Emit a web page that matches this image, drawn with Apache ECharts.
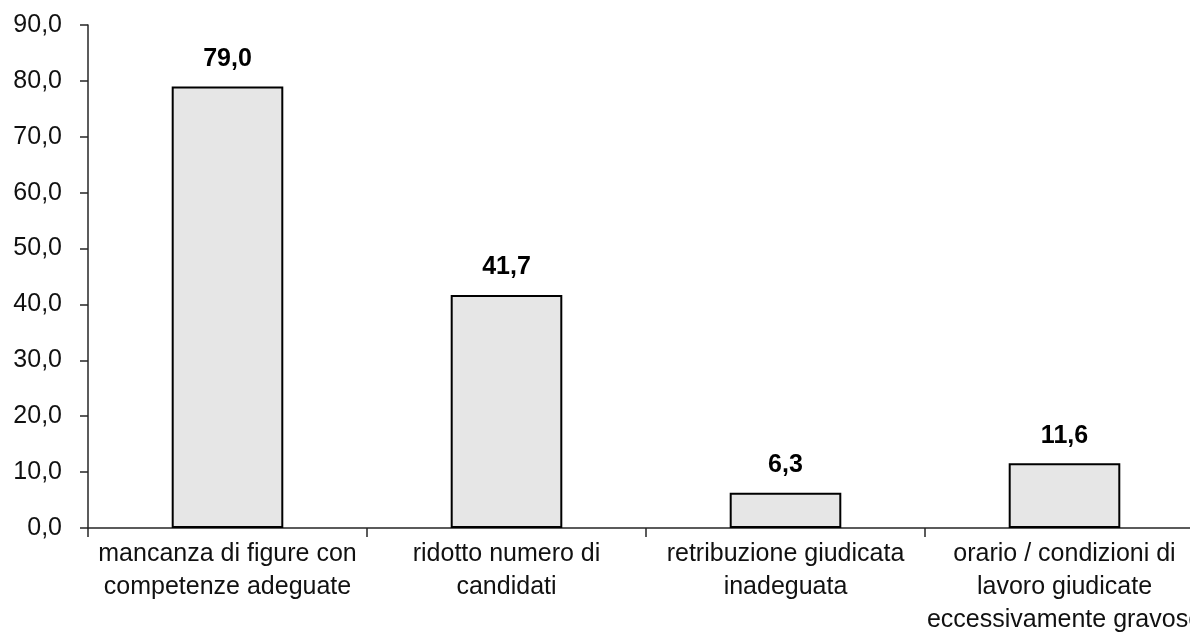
<!DOCTYPE html>
<html>
<head>
<meta charset="utf-8">
<script src="https://cdn.jsdelivr.net/npm/echarts@6/dist/echarts.min.js"></script>
<style>
html,body{margin:0;padding:0;background:#fff;}
#main{width:1190px;height:639px;}
</style>
</head>
<body>
<div id="main"></div>
<script>
const categories = [
  "mancanza di figure con\ncompetenze adeguate",
  "ridotto numero di\ncandidati",
  "retribuzione giudicata\ninadeguata",
  "orario / condizioni di\nlavoro giudicate\neccessivamente gravose"
];
const values = [79.0, 41.7, 6.3, 11.6];
const yTicks = { min: 0, max: 90, interval: 10 };

const FONT = "'Liberation Sans Narrow', 'Arial Narrow', 'Liberation Sans', Arial, sans-serif";
const fmt = v => Number(v).toFixed(1).replace('.', ',');

const chart = echarts.init(document.getElementById('main'), null, {renderer: 'canvas'});
chart.setOption({
  animation: false,
  backgroundColor: '#ffffff',
  grid: { left: 88, top: 25, bottom: 111, right: -14, containLabel: false, outerBoundsMode: 'none' },
  xAxis: {
    type: 'category',
    data: categories,
    boundaryGap: true,
    axisLine: { show: true, lineStyle: { color: '#262626', width: 1.5 } },
    axisTick: { show: true, length: 9, alignWithLabel: false, interval: 0, lineStyle: { color: '#262626', width: 1.5 } },
    axisLabel: { interval: 0, color: '#111', fontFamily: FONT, fontSize: 25, lineHeight: 33, margin: 10 },
    splitLine: { show: false }
  },
  yAxis: {
    type: 'value',
    min: yTicks.min, max: yTicks.max, interval: yTicks.interval,
    axisLine: { show: true, lineStyle: { color: '#262626', width: 1.5 } },
    axisTick: { show: true, length: 8, lineStyle: { color: '#262626', width: 1.5 } },
    axisLabel: { color: '#111', fontFamily: FONT, fontSize: 25, margin: 26, formatter: fmt },
    splitLine: { show: false }
  },
  series: [{
    type: 'bar',
    data: values,
    barWidth: '40%',
    itemStyle: { color: '#e6e6e6', borderColor: '#000', borderWidth: 2 },
    label: {
      show: true, position: 'top', distance: 15,
      color: '#000', fontFamily: FONT, fontWeight: 'bold', fontSize: 25,
      formatter: p => fmt(p.value)
    }
  }]
});
</script>
</body>
</html>
